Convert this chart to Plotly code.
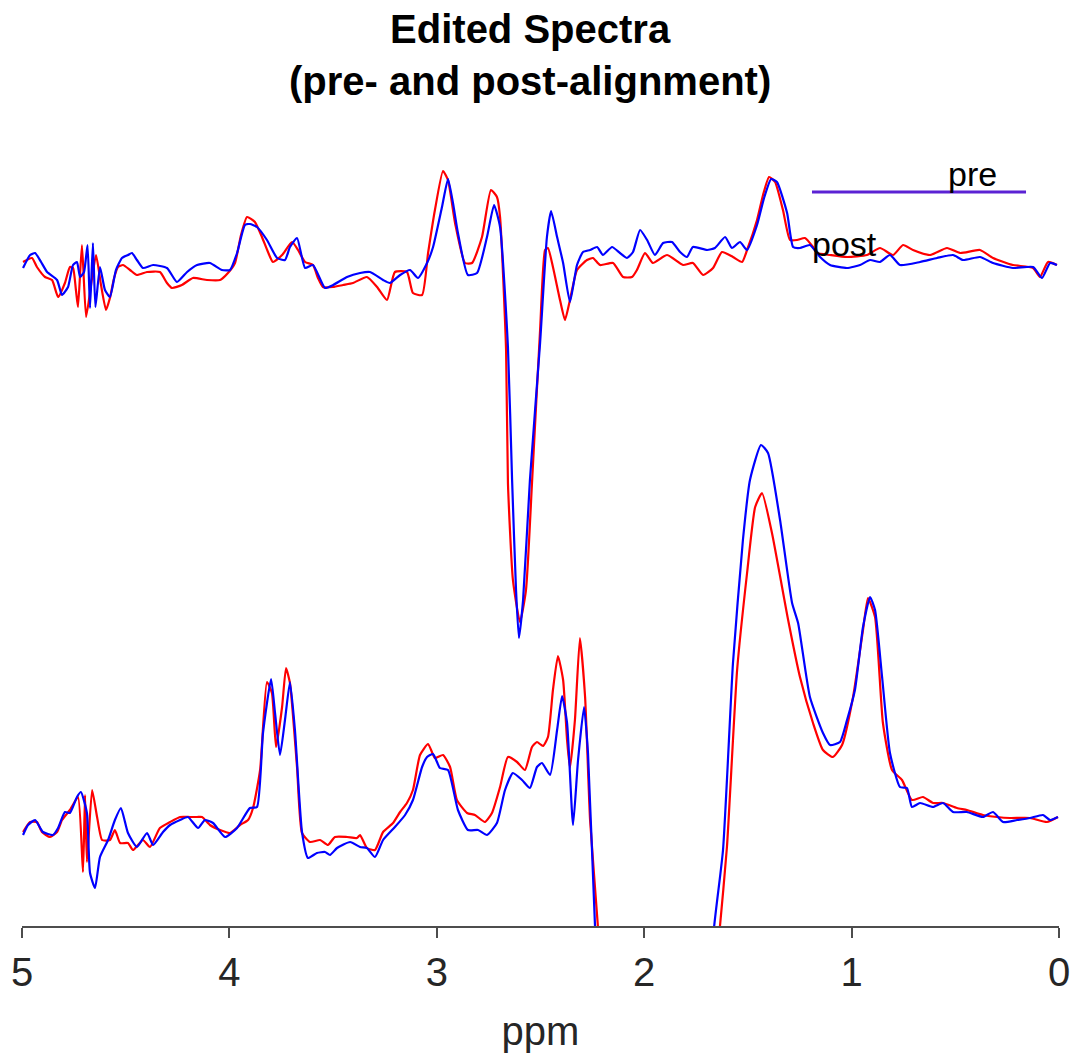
import plotly.graph_objects as go

# ---------------- data (ppm, arbitrary signal units) ----------------
# Edited (difference) spectrum, pre-alignment
top_pre_ppm = [4.995, 4.952, 4.928, 4.889, 4.855, 4.826, 4.793, 4.769, 4.754, 4.740,
               4.730, 4.711, 4.691, 4.667, 4.643, 4.619, 4.595, 4.576, 4.556, 4.537,
               4.513, 4.479, 4.446, 4.397, 4.335, 4.301, 4.277, 4.229, 4.176, 4.108,
               4.045, 4.007, 3.973, 3.944, 3.915, 3.877, 3.843, 3.814, 3.790, 3.746,
               3.698, 3.669, 3.635, 3.597, 3.573, 3.549, 3.500, 3.452, 3.404, 3.337,
               3.288, 3.240, 3.202, 3.144, 3.115, 3.071, 3.042, 3.009, 2.970, 2.946,
               2.912, 2.864, 2.830, 2.782, 2.739, 2.710, 2.695, 2.666, 2.657, 2.633,
               2.599, 2.570, 2.541, 2.502, 2.478, 2.464, 2.440, 2.406, 2.382, 2.358,
               2.324, 2.276, 2.247, 2.213, 2.150, 2.102, 2.059, 2.035, 1.996, 1.958,
               1.890, 1.813, 1.765, 1.716, 1.668, 1.625, 1.572, 1.528, 1.504, 1.456,
               1.427, 1.398, 1.369, 1.331, 1.297, 1.263, 1.225, 1.186, 1.167, 1.104,
               1.022, 0.926, 0.863, 0.800, 0.752, 0.704, 0.622, 0.540, 0.477, 0.381,
               0.318, 0.222, 0.125, 0.092, 0.053, 0.010]
top_pre_val = [664, 668, 659, 649, 646, 629, 643, 659, 658, 636,
               619, 681, 609, 641, 671, 641, 616, 628, 648, 659,
               661, 656, 651, 654, 654, 643, 638, 641, 648, 646,
               646, 653, 663, 691, 709, 704, 689, 674, 664, 671,
               684, 676, 664, 661, 648, 639, 639, 641, 643, 649,
               639, 626, 654, 654, 633, 631, 673, 716, 755, 746,
               703, 663, 663, 689, 736, 729, 709, 576, 443, 346,
               304, 336, 443, 596, 676, 678, 659, 626, 606, 626,
               656, 666, 668, 661, 663, 649, 649, 656, 673, 663,
               671, 661, 663, 651, 658, 674, 669, 664, 676, 706,
               731, 749, 744, 716, 686, 686, 688, 679, 673, 671,
               669, 671, 678, 671, 681, 676, 671, 678, 673, 676,
               668, 661, 658, 649, 664, 661]

# Edited (difference) spectrum, post-alignment
top_post_ppm = [4.995, 4.961, 4.937, 4.908, 4.879, 4.831, 4.807, 4.778, 4.754, 4.735,
                4.720, 4.701, 4.684, 4.672, 4.658, 4.646, 4.624, 4.600, 4.576, 4.547,
                4.518, 4.489, 4.470, 4.446, 4.417, 4.368, 4.301, 4.253, 4.204, 4.156,
                4.094, 4.036, 3.997, 3.963, 3.925, 3.901, 3.867, 3.819, 3.770, 3.732,
                3.708, 3.674, 3.635, 3.597, 3.539, 3.500, 3.433, 3.370, 3.322, 3.259,
                3.226, 3.177, 3.129, 3.091, 3.047, 3.018, 2.975, 2.946, 2.922, 2.898,
                2.850, 2.806, 2.758, 2.724, 2.695, 2.657, 2.637, 2.618, 2.604, 2.584,
                2.551, 2.502, 2.469, 2.449, 2.420, 2.391, 2.358, 2.324, 2.295, 2.261,
                2.227, 2.199, 2.155, 2.117, 2.083, 2.054, 2.020, 1.986, 1.948, 1.909,
                1.866, 1.827, 1.794, 1.765, 1.697, 1.659, 1.610, 1.577, 1.538, 1.504,
                1.456, 1.422, 1.388, 1.360, 1.311, 1.282, 1.249, 1.201, 1.152, 1.104,
                1.022, 0.959, 0.911, 0.863, 0.815, 0.767, 0.670, 0.588, 0.511, 0.463,
                0.381, 0.318, 0.222, 0.125, 0.082, 0.043, 0.010]
top_post_val = [658, 671, 673, 664, 654, 646, 631, 639, 661, 664,
                649, 654, 681, 618, 683, 619, 659, 636, 629, 656,
                668, 671, 673, 666, 658, 661, 658, 644, 654, 661,
                663, 656, 656, 673, 701, 702, 699, 686, 668, 666,
                679, 688, 658, 661, 638, 641, 649, 653, 654, 646,
                643, 651, 656, 648, 663, 679, 719, 747, 723, 693,
                651, 653, 689, 721, 699, 579, 446, 336, 288, 326,
                446, 583, 689, 715, 689, 663, 624, 661, 674, 676,
                679, 671, 679, 673, 668, 674, 696, 686, 671, 683,
                684, 674, 669, 679, 676, 678, 689, 678, 684, 676,
                701, 728, 747, 744, 713, 679, 678, 681, 669, 661,
                658, 661, 666, 664, 671, 661, 664, 668, 671, 666,
                669, 663, 658, 659, 648, 663, 661]

# Non-edited (sum) spectrum, pre-alignment
bot_pre_ppm = [4.995, 4.961, 4.928, 4.904, 4.865, 4.831, 4.807, 4.769, 4.730, 4.706,
               4.696, 4.687, 4.662, 4.638, 4.614, 4.576, 4.552, 4.527, 4.489, 4.465,
               4.417, 4.383, 4.335, 4.286, 4.238, 4.190, 4.156, 4.132, 4.094, 4.045,
               3.997, 3.949, 3.910, 3.886, 3.852, 3.819, 3.795, 3.775, 3.746, 3.727,
               3.708, 3.674, 3.650, 3.611, 3.563, 3.525, 3.491, 3.433, 3.385, 3.370,
               3.337, 3.298, 3.259, 3.211, 3.177, 3.144, 3.115, 3.081, 3.042, 3.009,
               2.970, 2.936, 2.903, 2.854, 2.816, 2.768, 2.734, 2.695, 2.657, 2.613,
               2.575, 2.541, 2.517, 2.488, 2.464, 2.440, 2.416, 2.391, 2.372, 2.358,
               2.334, 2.310, 2.285, 2.261, 2.223, 2.189, 1.950, 1.635, 1.601, 1.552,
               1.504, 1.465, 1.432, 1.384, 1.306, 1.249, 1.186, 1.138, 1.090, 1.046,
               0.993, 0.945, 0.921, 0.887, 0.849, 0.805, 0.757, 0.709, 0.656, 0.607,
               0.559, 0.492, 0.444, 0.367, 0.299, 0.236, 0.140, 0.058, 0.005]
bot_pre_val = [94, 104, 104, 94, 89, 94, 106, 116, 129, 54,
               131, 64, 136, 109, 86, 86, 96, 83, 83, 76,
               86, 79, 98, 104, 109, 109, 109, 109, 101, 96,
               93, 101, 106, 118, 156, 244, 233, 179, 219, 258,
               243, 159, 93, 84, 86, 81, 89, 89, 88, 91,
               78, 76, 94, 103, 114, 123, 136, 171, 182, 168,
               171, 159, 126, 113, 111, 104, 113, 139, 169, 164,
               156, 179, 184, 180, 189, 236, 270, 246, 186, 158,
               206, 288, 229, 106, -1, -124, -700, -1, 79, 256,
               353, 419, 433, 393, 306, 249, 203, 176, 169, 181,
               229, 296, 328, 309, 203, 156, 146, 126, 129, 123,
               123, 118, 116, 111, 109, 108, 108, 104, 109]

# Non-edited (sum) spectrum, post-alignment
bot_post_ppm = [4.995, 4.971, 4.937, 4.899, 4.851, 4.826, 4.793, 4.769, 4.735, 4.716,
                4.687, 4.672, 4.648, 4.624, 4.585, 4.552, 4.523, 4.489, 4.446, 4.397,
                4.368, 4.320, 4.286, 4.238, 4.200, 4.151, 4.118, 4.079, 4.021, 3.963,
                3.901, 3.867, 3.838, 3.799, 3.780, 3.756, 3.732, 3.708, 3.684, 3.650,
                3.621, 3.578, 3.539, 3.515, 3.481, 3.418, 3.370, 3.337, 3.298, 3.259,
                3.202, 3.153, 3.115, 3.071, 3.047, 3.018, 2.985, 2.946, 2.898, 2.850,
                2.801, 2.758, 2.710, 2.671, 2.633, 2.589, 2.551, 2.517, 2.493, 2.454,
                2.420, 2.396, 2.372, 2.343, 2.319, 2.290, 2.271, 2.237, 2.203, 1.950,
                1.663, 1.620, 1.572, 1.524, 1.490, 1.437, 1.403, 1.345, 1.287, 1.258,
                1.201, 1.138, 1.104, 1.056, 1.022, 0.984, 0.945, 0.911, 0.887, 0.853,
                0.815, 0.767, 0.733, 0.709, 0.670, 0.607, 0.559, 0.511, 0.444, 0.367,
                0.318, 0.270, 0.202, 0.140, 0.077, 0.043, 0.005]
bot_post_val = [91, 101, 106, 94, 91, 98, 114, 113, 129, 134,
                113, 53, 38, 69, 86, 106, 118, 93, 79, 93,
                81, 94, 101, 106, 109, 98, 106, 103, 89, 98,
                118, 119, 193, 247, 213, 171, 206, 244, 196, 94,
                68, 73, 74, 71, 78, 84, 79, 78, 69, 86,
                99, 111, 126, 159, 169, 172, 158, 156, 116, 96,
                96, 91, 103, 136, 153, 146, 138, 159, 163, 151,
                196, 230, 203, 101, 166, 219, 173, -1, -124, -700,
                -1, 76, 263, 386, 446, 481, 473, 406, 323, 303,
                229, 193, 181, 184, 206, 236, 299, 329, 316, 249,
                173, 139, 138, 119, 123, 119, 123, 114, 114, 109,
                114, 104, 106, 108, 111, 106, 109]

x_ticks = [5, 4, 3, 2, 1, 0]
title_lines = ["Edited Spectra", "(pre- and post-alignment)"]
legend_labels = ["pre", "post"]
x_label = "ppm"

PRE_COLOR = "#ff0000"
POST_COLOR = "#0000ff"
FONT = "Liberation Sans, Arial, sans-serif"

FIG_W, FIG_H = 1076, 1053

fig = go.Figure()
line_kw = dict(width=2.2, shape="spline", smoothing=0.5)
for xs, ys, col in [(top_pre_ppm, top_pre_val, PRE_COLOR),
                    (bot_pre_ppm, bot_pre_val, PRE_COLOR),
                    (top_post_ppm, top_post_val, POST_COLOR),
                    (bot_post_ppm, bot_post_val, POST_COLOR)]:
    fig.add_trace(go.Scatter(x=xs, y=ys, mode="lines",
                             line=dict(color=col, **line_kw),
                             showlegend=False, hoverinfo="skip"))

# legend imitation (MATLAB-style overlapping legend)
fig.add_shape(type="line", xref="x", yref="y", x0=1.191, x1=0.159, y0=734, y1=734,
              line=dict(color="#5b22d4", width=3))
fig.add_annotation(x=0.419, y=752, xref="x", yref="y", text=legend_labels[0],
                   showarrow=False, font=dict(family=FONT, size=34, color="#000000"))
fig.add_annotation(x=1.032, y=682, xref="x", yref="y", text=legend_labels[1],
                   showarrow=False, font=dict(family=FONT, size=34, color="#000000"))

fig.update_layout(
    width=FIG_W, height=FIG_H,
    margin=dict(l=22, r=17, t=130, b=127, autoexpand=False),
    paper_bgcolor="white", plot_bgcolor="white",
    title=dict(text="<b>" + title_lines[0] + "</b><br><b>" + title_lines[1] + "</b>",
               x=0.49, xref="paper", xanchor="center",
               y=1 - 43 / FIG_H, yref="container", yanchor="middle",
               font=dict(family=FONT, size=40, color="#000000")),
    xaxis=dict(range=[5, 0], tickvals=x_ticks, ticktext=[str(t) for t in x_ticks],
               showgrid=False, zeroline=False, showline=True, automargin=False,
               linecolor="#4d4d4d", linewidth=2,
               ticks="outside", ticklen=10, tickwidth=2, tickcolor="#4d4d4d",
               tickfont=dict(family=FONT, size=40, color="#262626"),
               title=dict(text=x_label, font=dict(family=FONT, size=40, color="#262626"),
                          standoff=25)),
    yaxis=dict(range=[0, 796], visible=False, showgrid=False, zeroline=False),
)

# remove the default 8 px page margin so the figure fills the window exactly
fig.write_html("out.html", config={"displayModeBar": False},
               post_script="document.body.style.margin='0';")
